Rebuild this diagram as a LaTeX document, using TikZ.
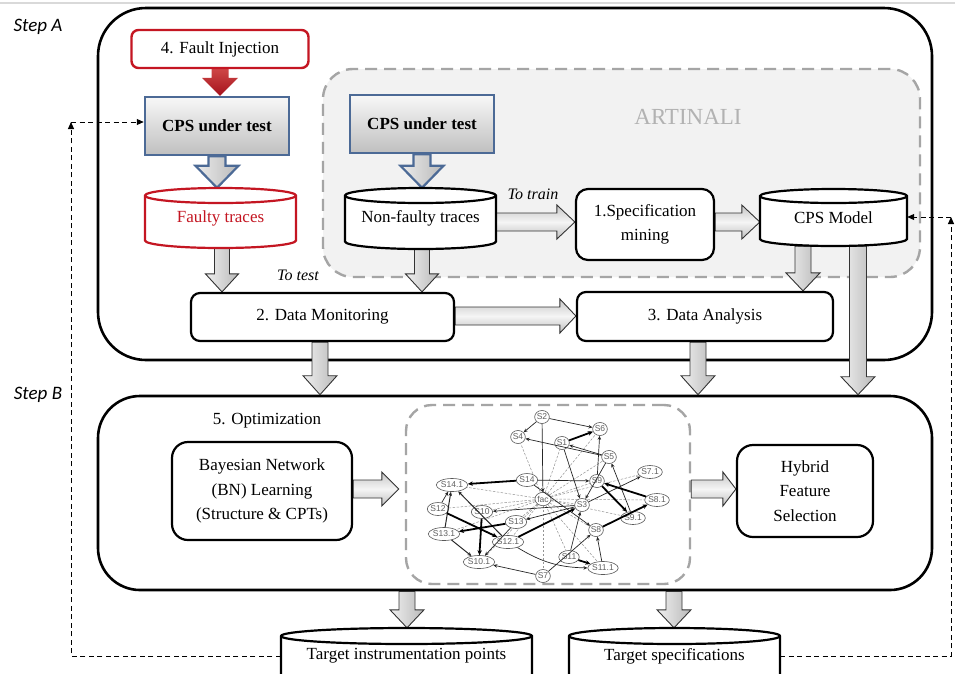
\documentclass[tikz,border=0pt]{standalone}
\usepackage{fontspec}
\setmainfont{Liberation Serif}
\setsansfont{Liberation Sans}
\newfontfamily\stepfont{Carlito}
\usetikzlibrary{shapes.geometric,arrows.meta,calc}
\definecolor{faultred}{RGB}{196,22,34}
\definecolor{cpsblue}{RGB}{76,106,150}
\definecolor{dashgray}{RGB}{165,165,165}
\definecolor{regionfill}{RGB}{242,242,242}
\pgfdeclarelayer{back}
\pgfdeclarelayer{mid}
\pgfsetlayers{back,mid,main}

\tikzset{
 txt/.style={font=\fontsize{17}{24.5}\selectfont, align=center},
 procbox/.style={draw=black, line width=2.2pt, fill=white, rounded corners=9pt, txt, inner sep=0pt},
 cpsbox/.style={draw=cpsblue, line width=2.5pt, top color=gray!6, bottom color=gray!50, inner sep=0pt,
   font=\fontsize{17}{20}\selectfont\bfseries},
 faultbox/.style={draw=faultred, line width=2.4pt, fill=white, rounded corners=7pt, txt, inner sep=0pt},
 frame/.style={draw=black, line width=2.6pt, fill=white, inner sep=0pt},
 region/.style={draw=dashgray, line width=2.4pt, dash pattern=on 12pt off 7pt, inner sep=0pt},
 grayarr/.style={draw=black!80, line width=0.9pt, left color=gray!12, right color=gray!55},
 grayarrh/.style={draw=black!80, line width=0.9pt, top color=gray!45, bottom color=gray!50, middle color=gray!8},
 bluearr/.style={draw=cpsblue, line width=2.2pt, left color=gray!15, right color=gray!55},
 redarr/.style={draw=none, top color={rgb,255:red,205;green,70;blue,70}, bottom color={rgb,255:red,165;green,18;blue,28}},
 fb/.style={draw=black, line width=1pt, dash pattern=on 5pt off 3.5pt},
 fbtip/.style={-{Triangle[length=7pt,width=6pt]}},
 sn/.style={ellipse, draw=gray!70!black, line width=0.6pt, fill=white, inner xsep=0pt, inner ysep=1.6pt,
   font=\fontsize{8.5}{8.5}\sffamily, text=gray!75!black},
 e/.style={draw=black!85, line width=0.7pt, -{Stealth[length=4pt,width=3.5pt]}},
 et/.style={draw=black, line width=1.8pt, -{Stealth[length=5pt,width=4.5pt]}},
 ed/.style={draw=gray!85, line width=0.5pt, dash pattern=on 2.5pt off 1.5pt},
 lbl/.style={font=\fontsize{16}{18}\selectfont\itshape, inner sep=0pt},
 steplbl/.style={font=\fontsize{19}{20}\stepfont\itshape, inner sep=0pt},
}

% vertical block arrow: style, from, to, x, shaft half width, head half width, head length
\newcommand\varr[7]{%
 \path[#1] let \p1=(#2), \p2=(#3) in
  (#4-#5,\y1) -- (#4+#5,\y1) -- (#4+#5,\y2+#7pt) -- (#4+#6,\y2+#7pt) -- (#4,\y2)
  -- (#4-#6,\y2+#7pt) -- (#4-#5,\y2+#7pt) -- cycle;}
% horizontal block arrow: style, from, to, y, shaft half width, head half width, head length
\newcommand\harr[7]{%
 \path[#1] let \p1=(#2), \p2=(#3) in
  (\x1,#4+#5) -- (\x2-#7pt,#4+#5) -- (\x2-#7pt,#4+#6) -- (\x2,#4) -- (\x2-#7pt,#4-#6)
  -- (\x2-#7pt,#4-#5) -- (\x1,#4-#5) -- cycle;}
% cylinder: name, L, T, R, B, ry, colour, text
\newcommand\cyl[8]{%
 \pgfmathsetmacro\cylcx{(#2+#4)/2}%
 \pgfmathsetmacro\cylrx{(#4-#2)/2}%
 \pgfmathsetmacro\cylcy{-(#3+#5)/2}%
 \filldraw[draw=#7, fill=white, line width=2.2pt] (#2,-#3-#6) -- (#2,-#5+#6)
   arc[start angle=180,end angle=360,x radius=\cylrx,y radius=#6] -- (#4,-#3-#6)
   arc[start angle=0,end angle=180,x radius=\cylrx,y radius=#6] -- cycle;
 \draw[draw=#7, line width=2.2pt] (#2,-#3-#6) arc[start angle=180,end angle=360,x radius=\cylrx,y radius=#6];
 \node[txt, inner sep=0pt, minimum width=#4-#2, minimum height=#5-#3] (#1) at (\cylcx,\cylcy) {\raisebox{-3pt}{#8}};
}

\begin{document}
\begin{tikzpicture}[x=1pt,y=1pt]
\useasboundingbox (0,0) rectangle (955,-673);
\draw[gray!30, line width=1.5pt] (0,-3) -- (955,-3);

% ---------- frames and regions ----------
\begin{pgfonlayer}{back}
\node[frame, rounded corners=48pt, minimum width=834, minimum height=352] (stepA) at (515,-184) {};
\node[frame, rounded corners=42pt, minimum width=834, minimum height=194] (stepB) at (515,-493) {};
\node[region, fill=regionfill, rounded corners=30pt, minimum width=597, minimum height=208] (art) at (621.5,-173) {};
\node[region, fill=white, rounded corners=26pt, minimum width=284, minimum height=179] (net) at (548,-494.5) {};
\end{pgfonlayer}

\node[steplbl] (stepAl) at (38,-27) {Step A};
\node[steplbl] (stepBl) at (38,-395) {Step B};
\node[font=\fontsize{23}{25}\selectfont, text=gray!60, inner sep=0pt] (artl) at (688,-117) {ARTINALI};

% ---------- Step A nodes ----------
\node[faultbox, minimum width=177, minimum height=38] (fault) at (220,-49) {4. Fault Injection};
\node[cpsbox, minimum width=144, minimum height=58] (cps1) at (217,-126) {CPS under test};
\node[cpsbox, minimum width=144, minimum height=58] (cps2) at (422,-124) {CPS under test};
\cyl{faulty}{145}{188}{296}{248}{7.5}{faultred}{\textcolor{faultred}{Faulty traces}}
\cyl{nonf}{345}{188}{496}{249}{7.5}{black}{Non-faulty traces}
\cyl{model}{760}{189}{907}{246}{7}{black}{CPS Model}
\node[procbox, rounded corners=12pt, minimum width=138, minimum height=71] (spec) at (645,-224.5) {1.Specification\\mining};
\node[procbox, minimum width=263, minimum height=48] (dm) at (322.5,-317) {2. Data Monitoring};
\node[procbox, minimum width=256, minimum height=49] (da) at (705,-316.5) {3. Data Analysis};
\node[lbl] (totest) at (298,-275) {To test};
\node[lbl] (totrain) at (533,-194) {To train};

% ---------- Step B nodes ----------
\node[txt, inner sep=0pt] (optl) at (267,-421) {5. Optimization};
\node[procbox, rounded corners=16pt, minimum width=180, minimum height=98] (bn) at (262,-491) {Bayesian Network\\(BN) Learning\\(Structure \& CPTs)};
\node[procbox, rounded corners=16pt, minimum width=136, minimum height=92] (hyb) at (805,-491) {Hybrid\\Feature\\Selection};
\cyl{tip}{281}{628}{532}{684}{8}{black}{Target instrumentation points}
\cyl{tsp}{569}{628}{780}{684}{8}{black}{Target specifications}

% ---------- block arrows ----------
\begin{pgfonlayer}{mid}
\varr{redarr}{fault.south}{cps1.north}{220}{8.5}{18}{18}
\varr{bluearr}{cps1.south}{faulty.north}{217}{8.5}{21.5}{22}
\varr{bluearr}{cps2.south}{nonf.north}{422}{8.5}{21.5}{22}
\varr{grayarr}{faulty.south}{dm.north}{222}{7.5}{16.5}{18}
\varr{grayarr}{nonf.south}{dm.north}{422}{7.5}{16.5}{18}
\varr{grayarr}{model.south}{da.north}{803}{8}{17}{18}
\varr{grayarr}{model.south}{stepB.north}{858}{8.5}{17}{18}
\varr{grayarr}{dm.south}{stepB.north}{320}{8}{17}{19}
\varr{grayarr}{da.south}{stepB.north}{698}{8}{17}{19}
\varr{grayarr}{stepB.south}{tip.north}{407}{8}{17}{18}
\varr{grayarr}{stepB.south}{tsp.north}{674}{8}{17}{18}
\harr{grayarrh}{nonf.east}{spec.west}{-222}{9}{17}{18}
\harr{grayarrh}{spec.east}{model.west}{-222}{9}{17}{18}
\harr{grayarrh}{dm.east}{da.west}{-316}{9}{17}{16}
\harr{grayarrh}{bn.east}{$(net.west)+(-6,0)$}{-489}{9}{17}{17}
\harr{grayarrh}{net.east}{hyb.west}{-489}{9}{17}{13}
\end{pgfonlayer}

% ---------- feedback dashed lines ----------
\coordinate (fbL) at (71,-122);
\coordinate (fbR) at (951,-217);
\draw[fb, fbtip] (tip.west) -| (fbL);
\draw[fb, fbtip] (fbL) -- (fbL -| cps1.west);
\draw[fb, fbtip] (tsp.east) -| (fbR);
\draw[fb, fbtip] (fbR) -- (fbR -| model.east);

% ---------- Bayesian network ----------
\node[sn] (s2) at (542,-417) {S2};
\node[sn] (s6) at (600,-429) {S6};
\node[sn] (s4) at (518,-437) {S4};
\node[sn] (s1) at (562,-443) {S1};
\node[sn] (s5) at (609,-457) {S5};
\node[sn] (s71) at (650,-472) {S7.1};
\node[sn] (s14) at (527,-480) {S14};
\node[sn] (s9) at (597,-481) {S9};
\node[sn] (s141) at (452,-485) {S14.1};
\node[sn] (fac) at (543,-499) {fac};
\node[sn] (s81) at (657,-500) {S8.1};
\node[sn] (s3) at (582,-505) {S3};
\node[sn] (s12) at (438,-509) {S12};
\node[sn] (s10) at (482,-512) {S10};
\node[sn] (s91) at (633,-518) {S9.1};
\node[sn] (s13) at (516,-522) {S13};
\node[sn] (s8) at (596,-530) {S8};
\node[sn] (s131) at (444,-534) {S13.1};
\node[sn] (s121) at (508,-542) {S12.1};
\node[sn] (s11) at (569,-557) {S11};
\node[sn] (s101) at (479,-562) {S10.1};
\node[sn] (s111) at (603,-568) {S11.1};
\node[sn] (s7) at (543,-576) {S7};

\begin{pgfonlayer}{mid}
\foreach \t in {s4,s1,s6,s5,s9,s71,s141,s12,s10,s13,s121,s3,s8,s81,s91,s11,s111,s7,s101,s131}
  \draw[ed] (fac) -- (\t);
\end{pgfonlayer}

\draw[e] (s2) -- (s4);
\draw[e] (s2) -- (s6);
\draw[e] (s2) -- (fac);
\draw[et] (s1) -- (s6);
\draw[e] (s5) -- (s1);
\draw[e] (s5) -- (s4);
\draw[e] (s9) -- (s6);
\draw[e] (s5) -- (s3);
\draw[e] (s1) -- (s3);
\draw[e] (s14) -- (s9);
\draw[e] (s91) -- (s5);
\draw[e] (s3) -- (s71);
\draw[et] (s81) -- (s9);
\draw[et] (s9) -- (s91);
\draw[et] (s8) -- (s81);
\draw[e] (s14) -- (s8);
\draw[e] (s11) -- (s3);
\draw[e] (s7) -- (s8);
\draw[et] (s11) -- (s111);
\draw[e] (s111) -- (s8);
\draw[e] (s121) to[bend right=15] (s111);
\draw[et] (s121) -- (s3);
\draw[e] (s3) -- (s10);
\draw[e] (s3) -- (s13);
\draw[et] (s14) -- (s141);
\draw[e] (s12) -- (s141);
\draw[e, line width=1pt] (s131) -- (s141);
\draw[e, line width=1pt] (s121) -- (s141);
\draw[et] (s12) -- (s121);
\draw[et] (s13) -- (s131);
\draw[et] (s10) -- (s101);
\draw[e, line width=1pt] (s131) -- (s101);
\draw[e] (s13) -- (s101);
\draw[e] (s7) -- (s101);
\end{tikzpicture}
\end{document}
